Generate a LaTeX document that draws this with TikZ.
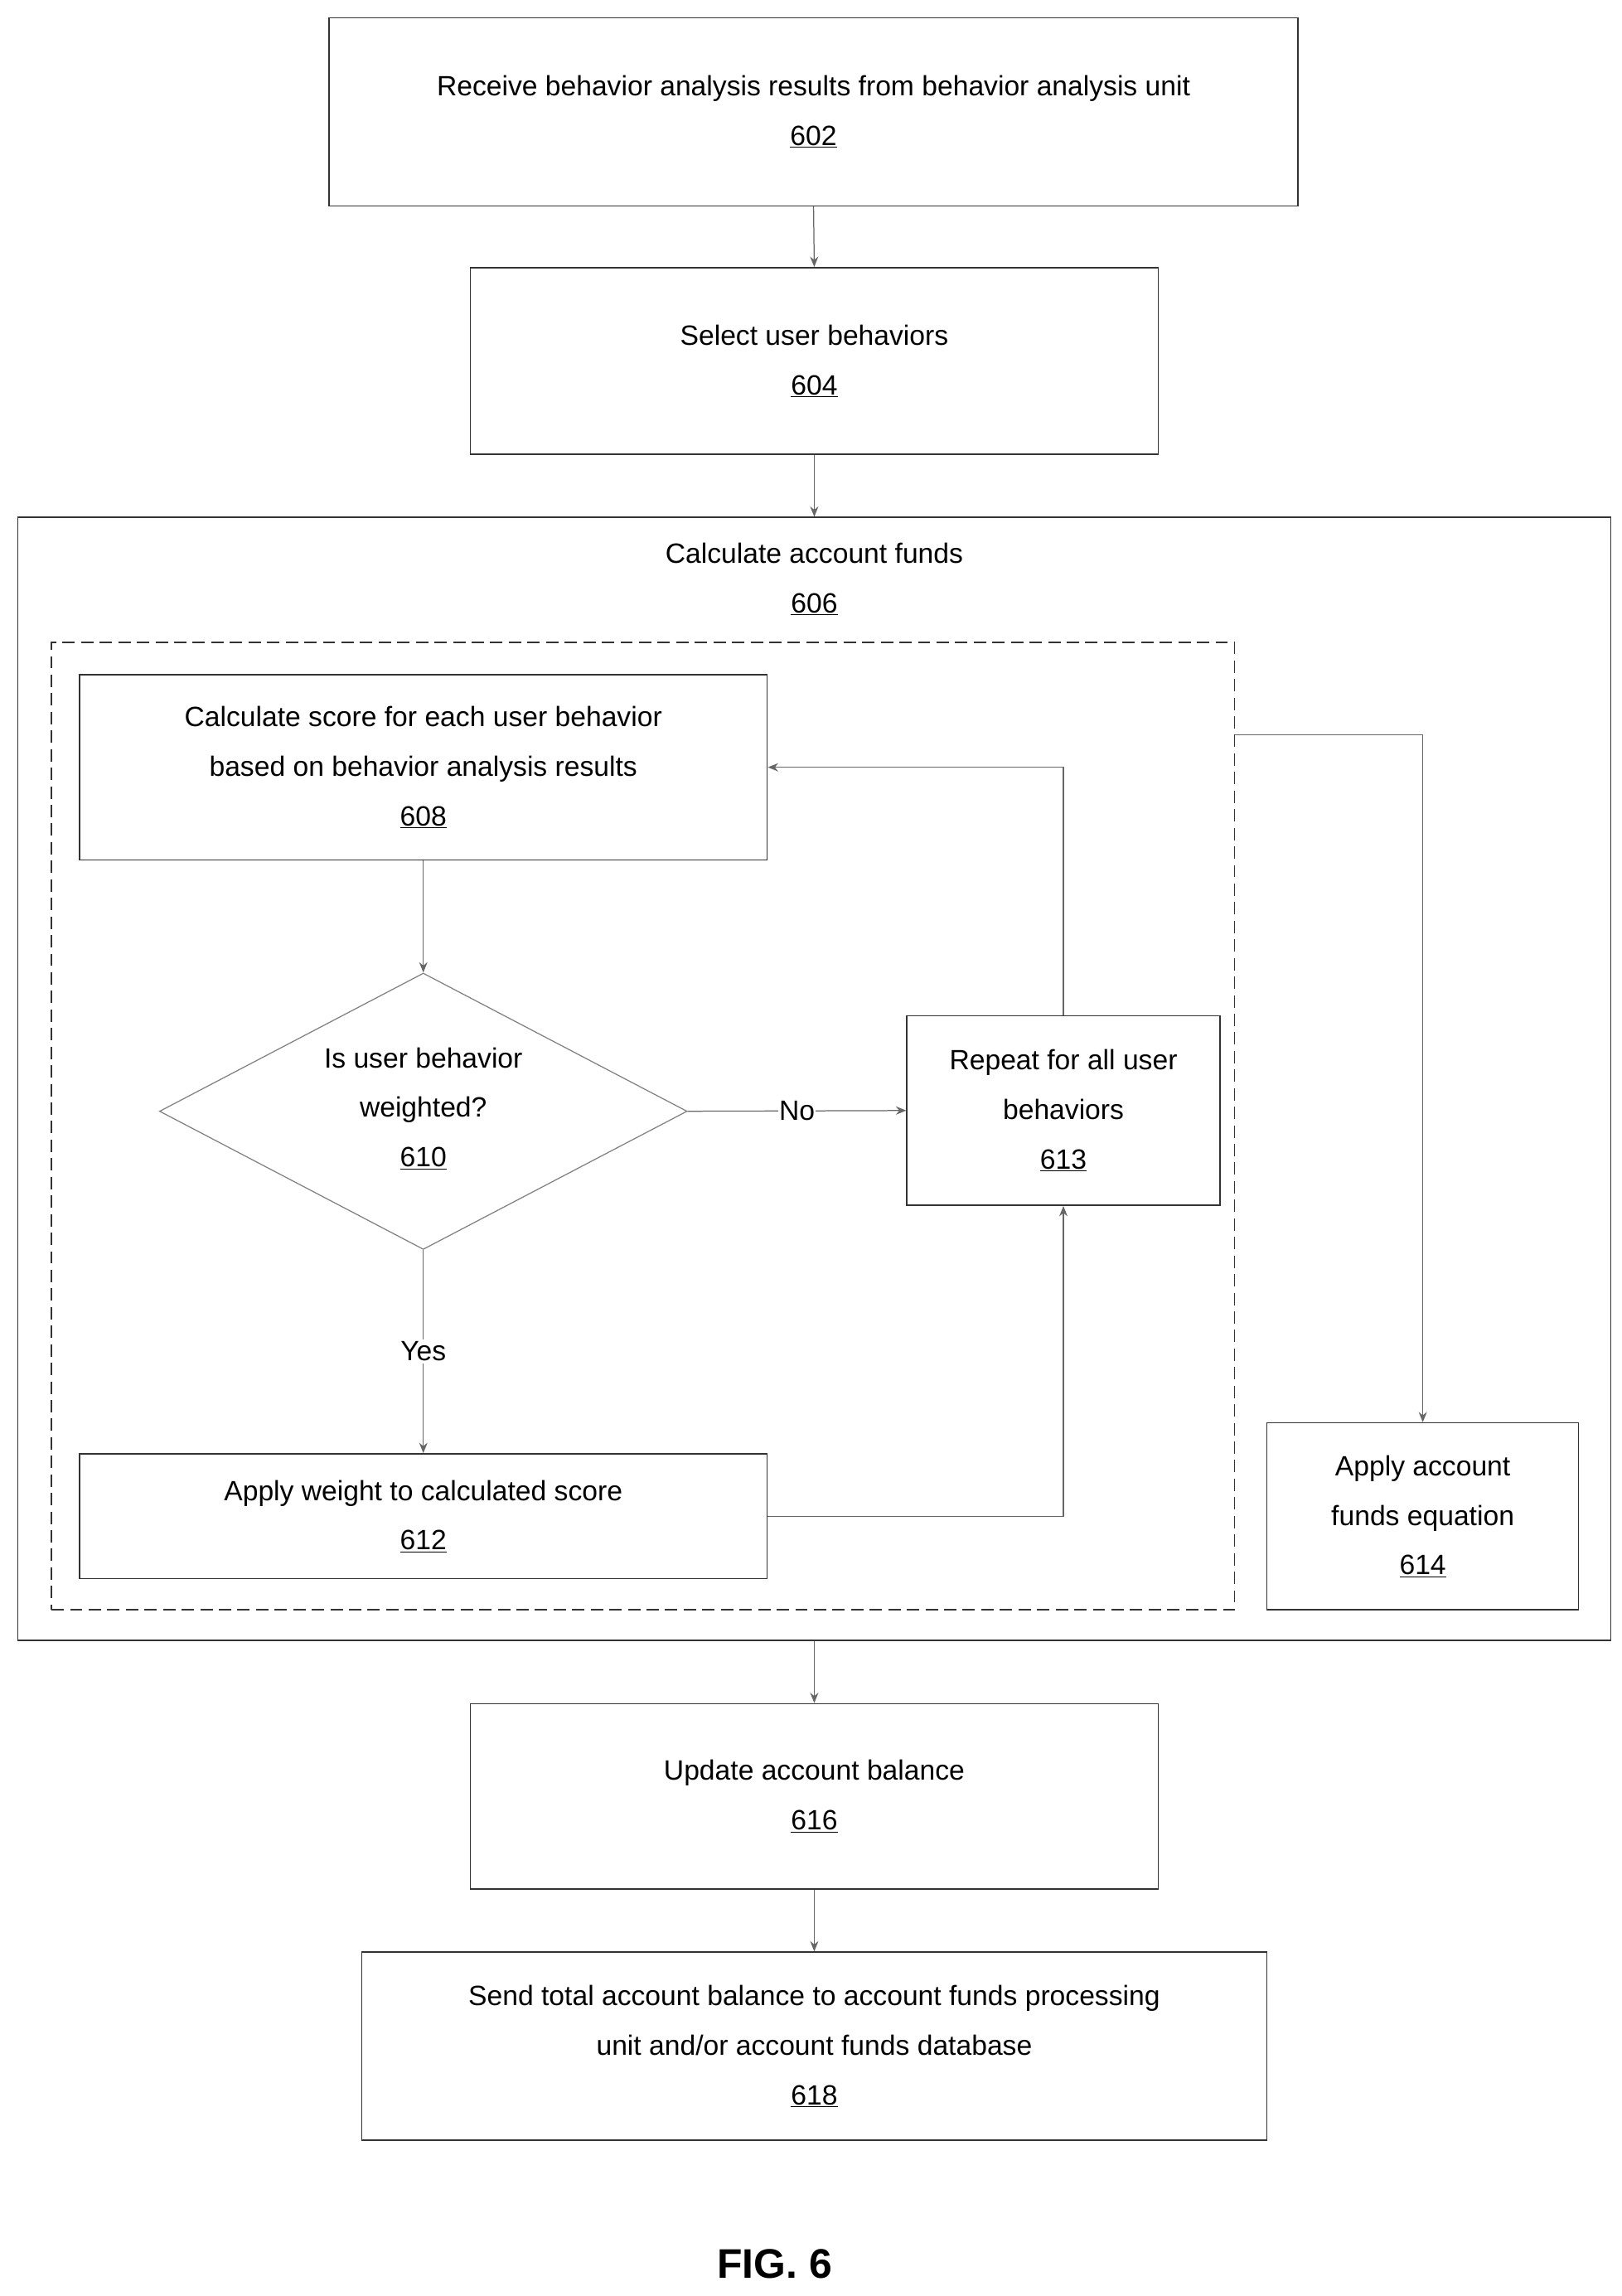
\documentclass[tikz,border=0pt]{standalone}
\usepackage{fontspec}
\setmainfont{Liberation Sans}
\usetikzlibrary{shapes.geometric,arrows.meta}
\begin{document}
\begin{tikzpicture}[x=0.05cm,y=-0.05cm,
 box/.style={draw=black!80,line width=1.2pt,align=center,inner sep=0pt,font=\fontsize{27}{48}\selectfont},
 txt/.style={align=center,font=\fontsize{27}{48}\selectfont},
 arr/.style={draw=black!60,line width=1pt,-{Stealth[length=10pt,width=8pt]}}]
\useasboundingbox (0,0) rectangle (1103,1562);
\newcommand{\bx}[6]{\node[box,minimum width=#4*0.05cm-#2*0.05cm,minimum height=#5*0.05cm-#3*0.05cm] (#1) at ({(#2+#4)/2},{(#3+#5)/2}) {#6};}
\bx{b602}{224}{12}{883}{140}{Receive behavior analysis results from behavior analysis unit\\\underline{602}}
\bx{b604}{320}{182}{788}{309}{Select user behaviors\\\underline{604}}
\node[draw=black!80,line width=1.2pt,minimum width=1084*0.05cm,minimum height=764*0.05cm] (b606) at (554,734) {};
\node[txt] (t606) at (554,394) {Calculate account funds\\\underline{606}};
\node[draw=black!80,line width=1.2pt,dashed,dash pattern=on 12pt off 6pt,minimum width=805*0.05cm,minimum height=658*0.05cm] (dash) at (437.5,766) {};
\bx{b608}{54}{459}{522}{585}{Calculate score for each user behavior\\based on behavior analysis results\\\underline{608}}
\node[diamond,draw=black!50,line width=1pt,minimum width=359*0.05cm,minimum height=188*0.05cm,inner sep=0pt,aspect=1.9] (d610) at (288,756) {};
\node[txt] at (288,754) {Is user behavior\\weighted?\\\underline{610}};
\bx{b613}{617}{691}{830}{820}{Repeat for all user\\behaviors\\\underline{613}}
\bx{b612}{54}{989}{522}{1074}{Apply weight to calculated score\\\underline{612}}
\bx{b614}{862}{968}{1074}{1095}{Apply account\\funds equation\\\underline{614}}
\bx{b616}{320}{1159}{788}{1285}{Update account balance\\\underline{616}}
\bx{b618}{246}{1328}{862}{1456}{Send total account balance to account funds processing\\unit and/or account funds database\\\underline{618}}
\node[font=\bfseries\fontsize{40}{48}\selectfont] (fig) at (527,1540) {FIG. 6};
\draw[arr] (b602.south) -- (b604.north);
\draw[arr] (b604.south) -- (b606.north);
\draw[arr] (b608.south) -- (d610.north);
\draw[arr] (d610.east) -- node[fill=white,txt,inner sep=1pt]{No} (b613.west);
\draw[arr] (b613.north) |- (b608.east);
\draw[arr] (d610.south) -- node[fill=white,txt,inner sep=2pt,pos=0.5]{Yes} (b612.north);
\draw[arr] (b612.east) -| (b613.south);
\coordinate (dr) at (840,500);
\draw[arr] (dr) -| (b614.north);
\draw[arr] (b606.south) -- (b616.north);
\draw[arr] (b616.south) -- (b618.north);
\end{tikzpicture}
\end{document}
